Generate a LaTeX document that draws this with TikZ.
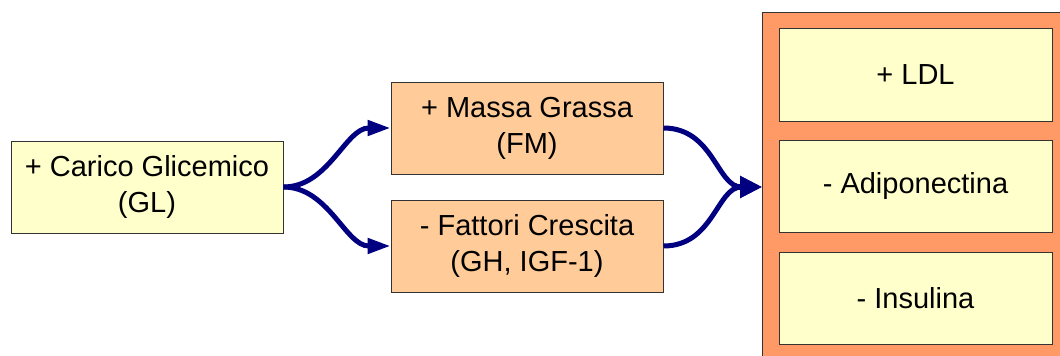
\documentclass[tikz,border=0pt]{standalone}
\usepackage{fontspec}
\setmainfont{Liberation Sans}
\usetikzlibrary{arrows.meta}
\definecolor{paleyellow}{HTML}{FFFFCC}
\definecolor{peach}{HTML}{FFCC99}
\definecolor{salmon}{HTML}{FF9966}
\definecolor{navyarrow}{HTML}{000080}
\definecolor{edgegray}{HTML}{333333}
\begin{document}
\begin{tikzpicture}[x=1pt,y=-1pt,
  box/.style={draw=edgegray,line width=1pt,minimum width=272pt,minimum height=92pt,inner sep=0pt,align=center,font=\fontsize{29}{36}\selectfont},
  ybox/.style={box,fill=paleyellow},
  obox/.style={box,fill=peach},
  flow/.style={draw=navyarrow,line width=5pt},
  splithead/.style={-{Triangle[length=23pt,width=15pt]}},
  joinhead/.style={-{Triangle[length=22pt,width=21pt]}}
]
\useasboundingbox (0,0) rectangle (1060,356);
\clip (0,0) rectangle (1060,356);
\node[draw=edgegray,line width=1pt,fill=salmon,minimum width=320pt,minimum height=370pt,inner sep=0pt,anchor=north west] (outer) at (762,12) {};
\coordinate (target) at (762,187);
\node[ybox] (gl) at (147,187) {+ Carico Glicemico\\(GL)};
\node[obox] (fm) at (527,128) {+ Massa Grassa\\(FM)};
\node[obox] (gh) at (527,246) {- Fattori Crescita\\(GH, IGF-1)};
\node[ybox,minimum width=273pt,minimum height=93pt] (ldl) at (915.5,74.5) {+ LDL};
\node[ybox,minimum width=273pt,minimum height=92pt] (adi) at (915.5,186) {- Adiponectina};
\node[ybox,minimum width=273pt,minimum height=92pt] (ins) at (915.5,298) {- Insulina};
\draw[flow,splithead] (gl.east) .. controls +(45,0) and +(-45,0) .. (fm.west);
\draw[flow,splithead] (gl.east) .. controls +(45,0) and +(-45,0) .. (gh.west);
\draw[flow,joinhead] (fm.east) .. controls +(50,0) and +(-45,0) .. (target);
\draw[flow,joinhead] (gh.east) .. controls +(50,0) and +(-45,0) .. (target);
\end{tikzpicture}
\end{document}
